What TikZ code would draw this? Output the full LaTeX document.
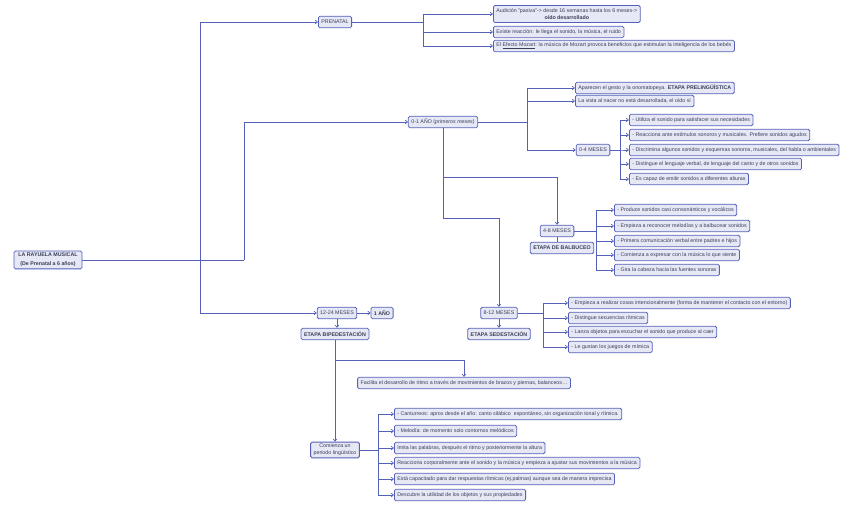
\documentclass[tikz,border=0pt]{standalone}
\usepackage{fontspec}
\setmainfont{Liberation Sans}
\usetikzlibrary{arrows.meta}
\definecolor{ln}{HTML}{5560B8}
\definecolor{bx}{HTML}{E6E8F5}
\definecolor{tx}{HTML}{3A3F58}
\begin{document}
\begin{tikzpicture}[x=1pt,y=-1pt,
  box/.style={draw=ln,fill=bx,rounded corners=1.5pt,line width=0.8pt,font=\fontsize{5.3}{6.3}\selectfont,text=tx,inner xsep=3pt,inner ysep=2pt,minimum height=11.5pt},
  lbox/.style={box,anchor=west},
  bb/.style={box,font=\fontsize{5.3}{6.3}\selectfont\bfseries},
  c/.style={draw=ln,line width=0.7pt},
  a/.style={c,-{Straight Barb[length=2.2pt,width=3.5pt]}}]
\useasboundingbox (0,0) rectangle (848,510);
\node[box,align=center,font=\fontsize{5.3}{9}\selectfont\bfseries,minimum width=68pt] (root) at (48,260) {LA RAYUELA MUSICAL\\(De Prenatal a 6 años)};
\node[box] (pre) at (335,22) {PRENATAL};
\node[lbox,align=center,minimum height=17pt] (p1) at (493,14) {Audición "pasiva"-> desde 16 semanas hasta los 6 meses->\\\textbf{oído desarrollado}};
\node[lbox] (p2) at (493,32) {Existe reacción: le llega el sonido, la música, el ruido};
\node[lbox] (p3) at (493,46) {El \underline{Efecto Mozart}: la música de Mozart provoca beneficios que estimulan la inteligencia de los bebés};
\node[box] (a01) at (443,122) {0-1 AÑO (\textit{primeros meses})};
\node[lbox] (e1) at (575,88) {Aparecen el gesto y la onomatopeya. \textbf{ETAPA PRELINGÜÍSTICA}};
\node[lbox] (e2) at (575,101) {La vista al nacer no está desarrollada, el oído sí};
\node[box] (m04) at (593,150) {0-4 MESES};
\foreach \n/\y/\t in {q1/120/{- Utiliza el sonido para satisfacer sus necesidades},
 q2/135/{- Reacciona ante estímulos sonoros y musicales. Prefiere sonidos agudos},
 q3/150/{- Discrimina algunos sonidos y esquemas sonoros, musicales, del habla o ambientales},
 q4/164/{- Distingue el lenguaje verbal, de lenguaje del canto y de otros sonidos},
 q5/179/{- Es capaz de emitir sonidos a diferentes alturas}}
 {\node[lbox] (\n) at (629,\y) {\t}; \draw[a] (m04.east) -- (620,150) |- (\n.west);}
\node[box] (m48) at (557,231) {4-8 MESES};
\node[bb] (bal) at (562,248) {ETAPA DE BALBUCEO};
\foreach \n/\y/\t in {b1/210/{- Produce sonidos casi consonánticos y vocálicos},
 b2/226/{- Empieza a reconocer melodías y a balbucear sonidos},
 b3/241/{- Primera comunicación verbal entre padres e hijos},
 b4/255/{- Comienza a expresar con la música lo que siente},
 b5/270/{- Gira la cabeza hacia las fuentes sonoras}}
 {\node[lbox] (\n) at (614,\y) {\t}; \draw[a] (m48.east) -- (596,231) |- (\n.west);}
\node[box] (m1224) at (337,313) {12-24 MESES};
\node[bb] (uno) at (382,313) {1 AÑO};
\node[bb] (bip) at (335,334) {ETAPA BIPEDESTACIÓN};
\node[box] (m812) at (499,313) {8-12 MESES};
\node[bb] (sed) at (499,334) {ETAPA SEDESTACIÓN};
\foreach \n/\y/\t in {s1/303/{- Empieza a realizar cosas intencionalmente (forma de mantener el contacto con el entorno)},
 s2/318/{- Distingue secuencias rítmicas},
 s3/332/{- Lanza objetos para escuchar el sonido que produce al caer},
 s4/347/{- Le gustan los juegos de mímica}}
 {\node[lbox] (\n) at (568,\y) {\t}; \draw[a] (m812.east) -- (543,313) |- (\n.west);}
\node[box] (fac) at (464,383) {Facilita el desarrollo de ritmo a través de movimientos de brazos y piernas, balanceos…};
\node[box,align=center,font=\fontsize{5.3}{6.8}\selectfont] (com) at (335,450) {Comienza un\\periodo lingüístico};
\foreach \n/\y/\t in {c1/414/{- Canturreos: aprox desde el año: canto silábico\ \ espontáneo, sin organización tonal y rítmica.},
 c2/431/{- Melodía: de momento solo contornos melódicos},
 c3/448/{Imita las palabras, después el ritmo y posteriormente la altura},
 c4/463/{Reacciona corporalmente ante el sonido y la música y empieza a ajustar sus movimientos a la música},
 c5/479/{Está capacitado para dar respuestas rítmicas (ej.palmas) aunque sea de manera imprecisa},
 c6/495/{Descubre la utilidad de los objetos y sus propiedades}}
 {\node[lbox] (\n) at (394,\y) {\t}; \draw[a] (com.east) -- (378,450) |- (\n.west);}
% connectors
\coordinate (j) at (200,260);
\draw[c] (root.east) -- (244,260);
\draw[a] (j) |- (pre.west);
\draw[a] (j) |- (m1224.west);
\draw[a] (244,260) |- (a01.west);
\foreach \n in {p1,p2,p3} \draw[a] (pre.east) -- (423,22) |- (\n.west);
\foreach \n in {e1,e2,m04} \draw[a] (a01.east) -- (527,122) |- (\n.west);
\draw[a] (a01.south) -- (443,177) -| (m48.north);
\draw[a] (a01.south) -- (443,218) -| (m812.north);
\draw[c] (m48.south) -- (m48.south |- bal.north);
\draw[a] (m1224) -- (uno);
\draw[a] (m1224.south) -- (m1224.south |- bip.north);
\draw[a] (m812.south) -- (sed.north);
\draw[a] (bip.south) -- (335,360) -| (fac.north);
\draw[a] (bip.south) -- (com.north);
\end{tikzpicture}
\end{document}
